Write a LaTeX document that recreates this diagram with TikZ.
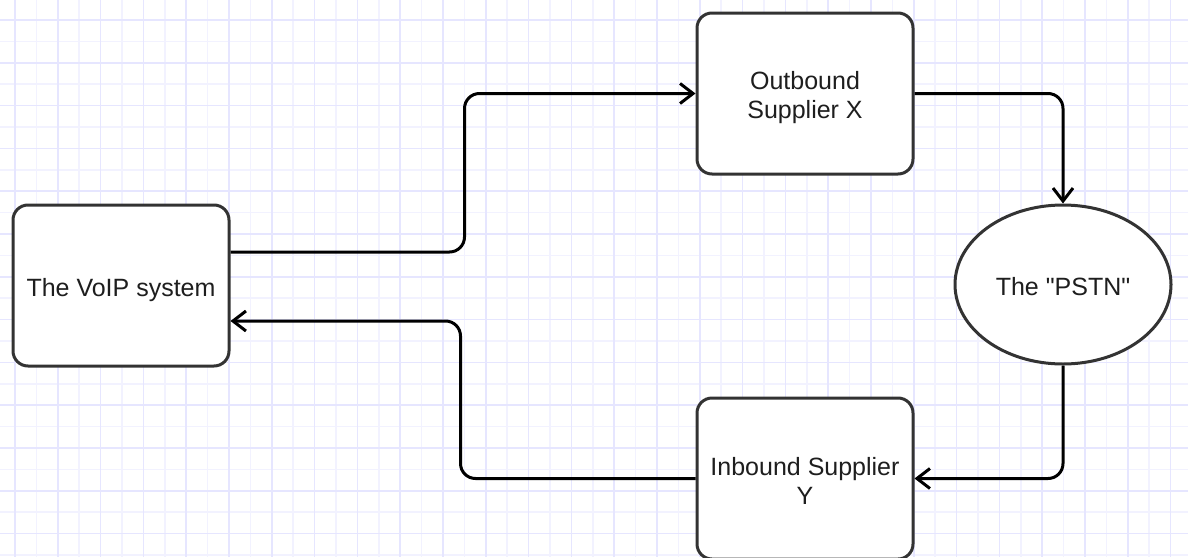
\documentclass[tikz,border=0pt]{standalone}
\usepackage{fontspec}
\setmainfont{Liberation Sans}[Ligatures=TeXOff]
\usetikzlibrary{arrows.meta,shapes.geometric}
\definecolor{gridmaj}{RGB}{230,230,255}
\definecolor{gridmin}{RGB}{242,242,255}
\definecolor{boxline}{RGB}{51,51,51}
\definecolor{txt}{RGB}{30,30,30}
\begin{document}
\begin{tikzpicture}[x=1pt,y=-1pt,
  gmin/.style={draw=gridmin,line width=1.5pt},
  gmaj/.style={draw=gridmaj,line width=1.5pt},
  boxnode/.style={draw=boxline,fill=white,line width=3pt,rounded corners=15pt,
    minimum width=216pt,minimum height=161pt,inner sep=0pt,
    text=txt,font=\fontsize{25}{29}\selectfont},
  ellnode/.style={ellipse,draw=boxline,fill=white,line width=3pt,
    minimum width=216pt,minimum height=159pt,inner sep=0pt,
    text=txt,font=\fontsize{25}{29}\selectfont},
  conn/.style={draw=black,line width=3pt,rounded corners=15pt,
    -{Straight Barb[length=13pt,width=20pt,line width=3pt]}}]
\useasboundingbox (0,0) rectangle (1188,557);
\fill[white] (0,0) rectangle (1188,557);
% grid
\foreach \k in {0,...,27} {
  \pgfmathsetmacro\xa{36.4+42.8*\k}
  \draw[gmin] (\xa,0) -- (\xa,557);
}
\foreach \k in {-1,...,12} {
  \pgfmathsetmacro\ya{41.4+42.8*\k}
  \draw[gmin] (0,\ya) -- (1188,\ya);
}
\foreach \k in {0,...,27} {
  \pgfmathsetmacro\xb{15+42.8*\k}
  \draw[gmaj] (\xb,0) -- (\xb,557);
}
\foreach \k in {0,...,12} {
  \pgfmathsetmacro\yb{20+42.8*\k}
  \draw[gmaj] (0,\yb) -- (1188,\yb);
}
% nodes
\node[boxnode] (voip) at (121,285.5) {\raisebox{-11pt}[0pt][0pt]{The VoIP system}};
\node[boxnode] (out) at (805,93.5) {\raisebox{-10.5pt}[0pt][0pt]{\begin{tabular}{@{}c@{}}Outbound\\Supplier X\end{tabular}}};
\node[boxnode] (in) at (805,478.5) {\raisebox{-11.5pt}[0pt][0pt]{\begin{tabular}{@{}c@{}}Inbound Supplier\\Y\end{tabular}}};
\node[ellnode] (pstn) at (1063,284.5) {\raisebox{-10.8pt}[0pt][0pt]{The "PSTN"}};
% connectors
\draw[conn] ([yshift=33.5pt]voip.east) -- ++(234,0) |- (out.west);
\draw[conn] (out.east) -| (pstn.north);
\draw[conn] (pstn.south) |- (in.east);
\draw[conn] (in.west) -- ++(-235,0) |- ([yshift=-35.5pt]voip.east);
\end{tikzpicture}
\end{document}
